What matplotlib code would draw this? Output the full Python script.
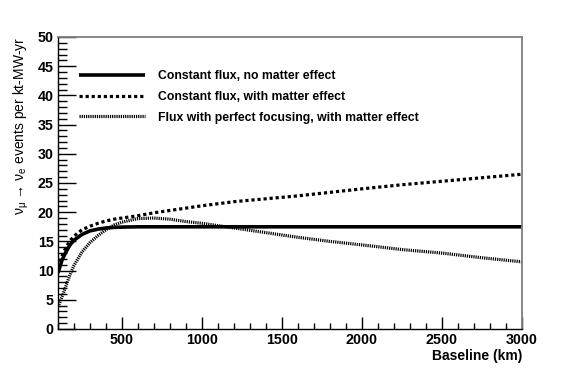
import matplotlib
matplotlib.use("Agg")
import matplotlib.pyplot as plt
from matplotlib.ticker import MultipleLocator

# baseline (km) and event rates
baseline = [100, 125, 150, 175, 200, 250, 300, 350, 400, 450, 500, 600, 700,
            800, 900, 1000, 1200, 1400, 1600, 1800, 2000, 2250, 2500, 2750, 3000]
const_no_matter = [9.6, 11.8, 13.2, 14.4, 15.2, 16.2, 16.8, 17.1, 17.3, 17.4,
                   17.45, 17.5, 17.5, 17.5, 17.5, 17.5, 17.5, 17.5, 17.5, 17.5,
                   17.5, 17.5, 17.5, 17.5, 17.5]
const_matter = [10.5, 12.5, 14.0, 15.1, 15.9, 17.0, 17.6, 18.1, 18.5, 18.8,
                19.0, 19.4, 19.9, 20.3, 20.7, 21.1, 21.8, 22.3, 22.8, 23.4,
                24.0, 24.7, 25.3, 25.9, 26.5]
focus_matter = [3.8, 5.5, 7.4, 9.3, 10.9, 13.2, 14.8, 16.0, 17.0, 17.8,
                18.3, 18.9, 19.0, 18.8, 18.4, 18.1, 17.3, 16.5, 15.7, 15.0,
                14.4, 13.6, 13.0, 12.2, 11.5]
labels = ["Constant flux, no matter effect",
          "Constant flux, with matter effect",
          "Flux with perfect focusing, with matter effect"]

plt.rcParams['font.family'] = ['Liberation Sans', 'DejaVu Sans']

fig = plt.figure(figsize=(5.81, 3.68), dpi=100)
ax = fig.add_axes([58/581, 39/368, 464/581, 292/368])

ax.plot(baseline, const_no_matter, color='black', lw=2.6,
        solid_capstyle='butt', label=labels[0])
ax.plot(baseline, const_matter, color='black', lw=2.3,
        linestyle=(0, (1.0, 0.9)), label=labels[1])
ax.plot(baseline, focus_matter, color='black', lw=2.3,
        linestyle=(0, (0.38, 0.3)), label=labels[2])

ax.set_xlim(100, 3000)
ax.set_ylim(0, 50)
ax.xaxis.set_major_locator(MultipleLocator(500))
ax.xaxis.set_minor_locator(MultipleLocator(100))
ax.yaxis.set_major_locator(MultipleLocator(5))
ax.yaxis.set_minor_locator(MultipleLocator(1))

ax.tick_params(axis='x', which='major', direction='in', length=9, width=1,
               top=False, pad=3)
ax.tick_params(axis='x', which='minor', direction='in', length=4.5, width=1,
               top=False)
ax.tick_params(axis='y', which='major', direction='in', length=13, width=1,
               right=False, pad=3)
ax.tick_params(axis='y', which='minor', direction='in', length=6.5, width=1,
               right=False)
for lbl in ax.get_xticklabels() + ax.get_yticklabels():
    lbl.set_fontweight('bold')
    lbl.set_fontsize(10.3)

for side in ['top', 'right']:
    ax.spines[side].set_color('#808080')
    ax.spines[side].set_linewidth(1.3)
for side in ['left', 'bottom']:
    ax.spines[side].set_linewidth(1.0)

ax.set_xlabel("Baseline (km)", fontsize=10, fontweight='bold',
              loc='right', labelpad=1)
ax.set_ylabel(r"$\mathregular{ν_{μ}}$ → $\mathregular{ν_{e}}$ events per kt-MW-yr",
              fontsize=10, loc='top', labelpad=5)

ax.legend(loc='upper left', bbox_to_anchor=(79/581, 1 - 70/368),
          bbox_transform=fig.transFigure, frameon=False,
          prop={'weight': 'bold', 'size': 8.8},
          handlelength=5.4, handletextpad=1.1, labelspacing=0.72,
          borderpad=0, borderaxespad=0)

fig.savefig("out.png", dpi=100)
